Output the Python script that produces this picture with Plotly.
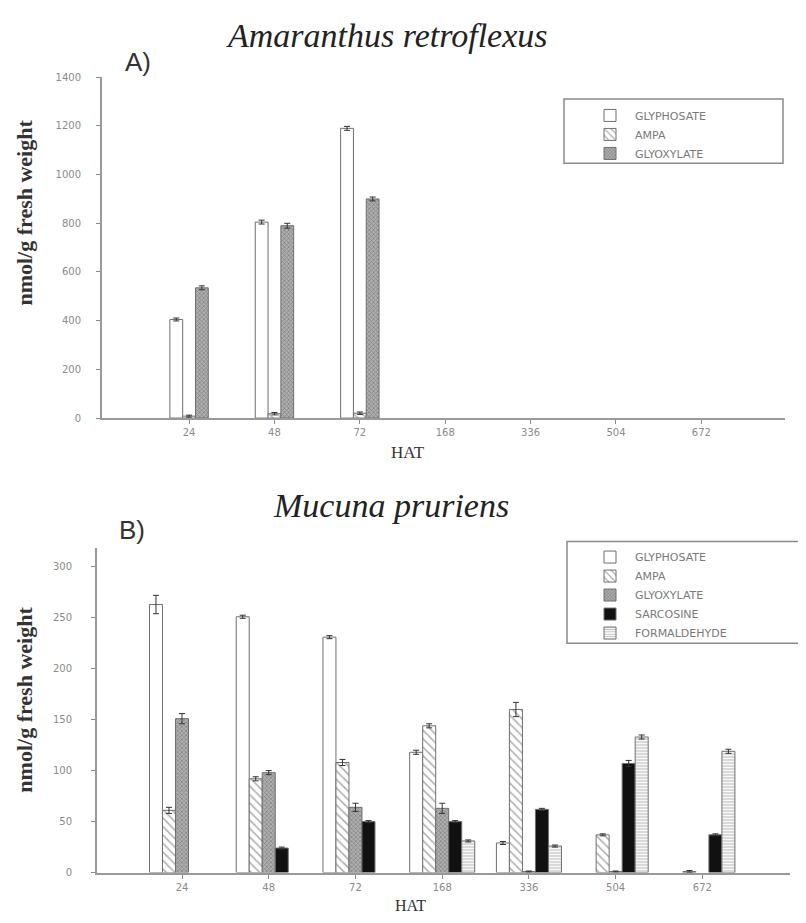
import plotly.graph_objects as go

# ---------------- data ----------------
HAT = ["24", "48", "72", "168", "336", "504", "672"]

# Panel A - Amaranthus retroflexus
A_GLYPHOSATE = [405, 805, 1190, None, None, None, None]
A_GLYPHOSATE_ERR = [6, 8, 8, None, None, None, None]
A_AMPA = [8, 18, 20, None, None, None, None]
A_AMPA_ERR = [4, 5, 5, None, None, None, None]
A_GLYOXYLATE = [535, 790, 900, None, None, None, None]
A_GLYOXYLATE_ERR = [8, 10, 8, None, None, None, None]

# Panel B - Mucuna pruriens (None = not detected, no bar drawn)
B_GLYPHOSATE = [263, 251, 231, 118, 29, None, None]
B_GLYPHOSATE_ERR = [9, 1.5, 1.5, 2, 1.5, None, None]
B_AMPA = [61, 92, 108, 144, 160, 37, 1]
B_AMPA_ERR = [3, 2, 3, 2, 7, 1, 1]
B_GLYOXYLATE = [151, 98, 64, 63, 1, 1, None]
B_GLYOXYLATE_ERR = [5, 2, 4, 5, 0.5, 0.5, None]
B_SARCOSINE = [None, 24, 50, 50, 62, 107, 37]
B_SARCOSINE_ERR = [None, 1, 1, 1, 1, 3, 1]
B_FORMALDEHYDE = [None, None, None, 31, 26, 133, 119]
B_FORMALDEHYDE_ERR = [None, None, None, 1, 1, 2, 2]

SERIES_A = ["GLYPHOSATE", "AMPA", "GLYOXYLATE"]
SERIES_B = ["GLYPHOSATE", "AMPA", "GLYOXYLATE", "SARCOSINE", "FORMALDEHYDE"]

# ---------------- geometry / styles ----------------
PAGE_W, PAGE_H = 806, 923
OFF = 8                       # default page body margin
W, H = PAGE_W - OFF, PAGE_H - OFF
OUT = "#6f6f6f"
STYLE = {
    "GLYPHOSATE": dict(color="white", pattern=dict(shape="")),
    "AMPA": dict(color="white", pattern=dict(shape="\\", fgcolor="#555", bgcolor="white", size=6, solidity=0.25)),
    "GLYOXYLATE": dict(color="#9a9a9a", pattern=dict(shape="x", fgcolor="#555", bgcolor="#b0b0b0", size=3, solidity=0.45)),
    "SARCOSINE": dict(color="#111111", pattern=dict(shape="")),
    "FORMALDEHYDE": dict(color="white", pattern=dict(shape="-", fgcolor="#777", bgcolor="white", size=3, solidity=0.4)),
}

def px_x(p):
    return (p - OFF) / W

def px_y(p):
    return 1 - (p - OFF) / H

fig = go.Figure()

def add_bars(names, values, errs, xa, ya, legend, bw):
    n = len(names)
    start = -n * bw / 2
    for i, (nm, v, e) in enumerate(zip(names, values, errs)):
        st = STYLE[nm]
        fig.add_trace(go.Bar(
            x=HAT, y=v, name=nm, xaxis=xa, yaxis=ya, legend=legend,
            width=bw, offset=start + i * bw,
            marker=dict(color=st["color"], pattern=st["pattern"],
                        line=dict(color=OUT, width=1)),
            error_y=dict(type="data", array=e, visible=True, color="#333",
                         thickness=1, width=3),
        ))

add_bars(SERIES_A, [A_GLYPHOSATE, A_AMPA, A_GLYOXYLATE],
         [A_GLYPHOSATE_ERR, A_AMPA_ERR, A_GLYOXYLATE_ERR], "x", "y", "legend", 0.15)
add_bars(SERIES_B, [B_GLYPHOSATE, B_AMPA, B_GLYOXYLATE, B_SARCOSINE, B_FORMALDEHYDE],
         [B_GLYPHOSATE_ERR, B_AMPA_ERR, B_GLYOXYLATE_ERR, B_SARCOSINE_ERR, B_FORMALDEHYDE_ERR],
         "x2", "y2", "legend2", 0.15)

axis_common = dict(showline=True, linecolor="#999", linewidth=2, showgrid=False,
                   zeroline=False, ticks="outside", ticklen=4, tickcolor="#888",
                   tickfont=dict(family="DejaVu Sans", size=10, color="#8a8a8a"))

legend_common = dict(xanchor="left", yanchor="top", bgcolor="rgba(0,0,0,0)",
                     borderwidth=0, tracegroupgap=0, itemwidth=40, traceorder="normal",
                     font=dict(family="DejaVu Sans", size=11, color="#7a7a7a"))

fig.update_layout(
    width=W, height=H, margin=dict(l=0, r=0, t=0, b=0),
    paper_bgcolor="white", plot_bgcolor="white",
    barmode="overlay", showlegend=True,
    xaxis=dict(domain=[px_x(102), px_x(785)], anchor="y", type="category",
               range=[-1.02, 6.98], **axis_common),
    yaxis=dict(domain=[px_y(418), px_y(73)], anchor="x", range=[0, 1400],
               tickvals=[0, 200, 400, 600, 800, 1000, 1200, 1400],
               ticklabelstandoff=13, **axis_common),
    xaxis2=dict(domain=[px_x(97), px_x(790)], anchor="y2", type="category",
                range=[-0.98, 7.01], **axis_common),
    yaxis2=dict(domain=[px_y(878), px_y(550)], anchor="x2", range=[0, 318],
                tickvals=[0, 50, 100, 150, 200, 250, 300],
                ticklabelstandoff=17, **axis_common),
    legend=dict(x=px_x(585), y=px_y(97), **legend_common),
    legend2=dict(x=px_x(585), y=px_y(544), **legend_common),
    shapes=[
        dict(type="rect", xref="paper", yref="paper",
             x0=px_x(564), x1=px_x(783), y0=px_y(160), y1=px_y(95),
             line=dict(color="#8a8a8a", width=1.5), fillcolor="rgba(0,0,0,0)"),
        dict(type="rect", xref="paper", yref="paper",
             x0=px_x(567), x1=px_x(812), y0=px_y(646), y1=px_y(543),
             line=dict(color="#8a8a8a", width=1.5), fillcolor="rgba(0,0,0,0)"),
    ],
)

serif = "Liberation Serif"
ann = [
    dict(text="<i>Amaranthus retroflexus</i>", x=px_x(387), y=px_y(31),
         font=dict(family=serif, size=34, color="#222")),
    dict(text="<i>Mucuna pruriens</i>", x=px_x(391), y=px_y(506),
         font=dict(family=serif, size=34, color="#222")),
    dict(text="A)", x=px_x(138), y=px_y(58),
         font=dict(family="Liberation Sans", size=26, color="#333")),
    dict(text="B)", x=px_x(132), y=px_y(531),
         font=dict(family="Liberation Sans", size=26, color="#333")),
    dict(text="<b>nmol/g fresh weight</b>", x=px_x(25), y=px_y(210), textangle=-90,
         font=dict(family=serif, size=22, color="#333")),
    dict(text="<b>nmol/g fresh weight</b>", x=px_x(25), y=px_y(703), textangle=-90,
         font=dict(family=serif, size=22, color="#333")),
    dict(text="HAT", x=px_x(408), y=px_y(453),
         font=dict(family=serif, size=17, color="#333")),
    dict(text="HAT", x=px_x(410), y=px_y(911),
         font=dict(family=serif, size=16, color="#333")),
]
for a in ann:
    a.update(xref="paper", yref="paper", showarrow=False, xanchor="center", yanchor="middle")
fig.update_layout(annotations=ann)

fig.write_html("out.html")
